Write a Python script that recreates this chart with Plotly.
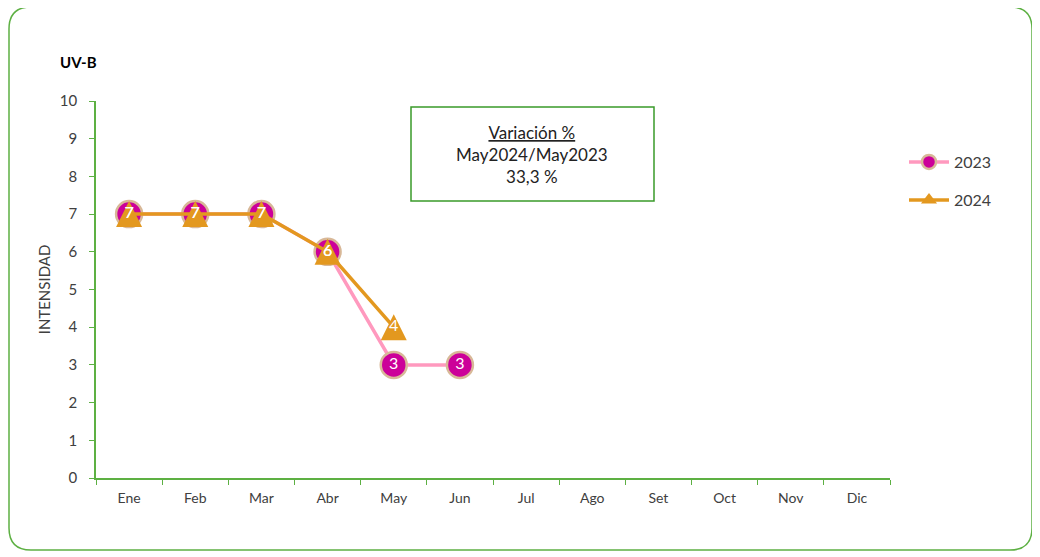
import plotly.graph_objects as go

months = ["Ene", "Feb", "Mar", "Abr", "May", "Jun", "Jul", "Ago", "Set", "Oct", "Nov", "Dic"]
uv_2023 = [7, 7, 7, 6, 3, 3, None, None, None, None, None, None]
uv_2024 = [7, 7, 7, 6, 4, None, None, None, None, None, None, None]
y_ticks = list(range(0, 11))

FONT = "Lato, Open Sans, sans-serif"
GREEN = "#5DB043"
PINK = "#FF99BE"
MAGENTA = "#CC0099"
TAN = "#D8B898"
ORANGE = "#E3981F"

def labels(vals):
    return ["" if v is None else str(v) for v in vals]

OFF = 8  # page body margin
W, H = 1040 - OFF, 557 - OFF
PL, PR, PT, PB = 96, 890, 101, 478   # plot area in page pixels
L, R, T, B = PL - OFF, W - (PR - OFF), PT - OFF, H - (PB - OFF)
pw, ph = W - L - R, H - T - B
YMAX = 10
TRI = 26                       # triangle marker size (px)
tri_shift = (TRI / 2) / ph * YMAX   # centre the arrow-up triangle on the value

fig = go.Figure()
# 2023 line + circles
fig.add_trace(go.Scatter(
    x=months, y=uv_2023, name="2023", mode="lines+markers", showlegend=False,
    line=dict(color=PINK, width=3.5),
    marker=dict(symbol="circle", size=26, color=MAGENTA, line=dict(color=TAN, width=2.5)),
))
# 2024 line
fig.add_trace(go.Scatter(
    x=months, y=uv_2024, name="2024", mode="lines", showlegend=False,
    line=dict(color=ORANGE, width=3.5),
))
# 2024 triangles (on an overlaid axis so the triangle is centred on the value)
fig.add_trace(go.Scatter(
    x=months, y=uv_2024, name="2024", mode="markers", showlegend=False, yaxis="y2",
    marker=dict(symbol="arrow-up", size=TRI, color=ORANGE, line=dict(width=0)),
))
# data labels on top
for vals in (uv_2023, uv_2024):
    fig.add_trace(go.Scatter(
        x=months, y=vals, mode="text", showlegend=False, yaxis="y3",
        text=labels(vals), textposition="middle center",
        textfont=dict(color="white", size=16, family=FONT), hoverinfo="skip",
    ))
# legend entries
fig.add_trace(go.Scatter(
    x=[None], y=[None], name="2023", mode="lines+markers", legend="legend",
    line=dict(color=PINK, width=3.5),
    marker=dict(symbol="circle", size=14, color=MAGENTA, line=dict(color=TAN, width=2.5)),
))
fig.add_trace(go.Scatter(
    x=[None], y=[None], name="2024", mode="lines+markers", legend="legend2",
    line=dict(color=ORANGE, width=3.5),
    marker=dict(symbol="triangle-up", size=14, color=ORANGE, line=dict(width=0)),
))

def px(x):
    return (x - PL) / pw

def py(y):
    return (PB - y) / ph

# rounded outer border (in paper coords)
x0, x1, y0, y1, r = 9, 1032, 7, 550, 22
path = (
    f"M {px(x0 + r)},{py(y0)} L {px(x1 - r)},{py(y0)} "
    f"Q {px(x1)},{py(y0)} {px(x1)},{py(y0 + r)} "
    f"L {px(x1)},{py(y1 - r)} Q {px(x1)},{py(y1)} {px(x1 - r)},{py(y1)} "
    f"L {px(x0 + r)},{py(y1)} Q {px(x0)},{py(y1)} {px(x0)},{py(y1 - r)} "
    f"L {px(x0)},{py(y0 + r)} Q {px(x0)},{py(y0)} {px(x0 + r)},{py(y0)} Z"
)

leg_common = dict(xanchor="left", yanchor="middle", font=dict(size=16, color="#404040"),
                  itemwidth=40, bgcolor="rgba(0,0,0,0)")

fig.update_layout(
    width=W, height=H,
    margin=dict(l=L, r=R, t=T, b=B),
    paper_bgcolor="white", plot_bgcolor="white",
    font=dict(family=FONT, size=14, color="#404040"),
    showlegend=True,
    legend=dict(x=px(904), y=py(162), **leg_common),
    legend2=dict(x=px(904), y=py(200), **leg_common),
    xaxis=dict(
        type="category", categoryorder="array", categoryarray=months,
        range=[-0.5, 11.5], showgrid=False, showline=True, linecolor=GREEN,
        linewidth=1.5, ticks="outside", tickson="boundaries", tickcolor=GREEN,
        ticklen=5, tickfont=dict(size=14, color="#404040"), zeroline=False,
        ticklabelstandoff=6,
    ),
    yaxis=dict(
        range=[0, YMAX], tickvals=y_ticks, showgrid=False, showline=True,
        linecolor=GREEN, linewidth=1.5, ticks="outside", tickcolor=GREEN,
        ticklen=5, tickfont=dict(size=15, color="#404040"), zeroline=False,
        ticklabelstandoff=9,
        title=dict(text="INTENSIDAD", font=dict(size=15, color="#404040"), standoff=6),
    ),
    yaxis2=dict(
        range=[0 - tri_shift, YMAX - tri_shift], overlaying="y", visible=False,
    ),
    yaxis3=dict(range=[0, YMAX], overlaying="y", visible=False),
    shapes=[
        dict(type="path", path=path, xref="paper", yref="paper",
             line=dict(color=GREEN, width=1.5), fillcolor="rgba(0,0,0,0)", layer="below"),
        dict(type="rect", xref="paper", yref="paper",
             x0=px(411), x1=px(654), y0=py(201), y1=py(107),
             line=dict(color="#3A9A2A", width=1.5), fillcolor="white"),
    ],
    annotations=[
        dict(text="<b>UV-B</b>", xref="paper", yref="paper", x=px(58), y=py(62),
             xanchor="left", yanchor="middle", showarrow=False,
             font=dict(size=15, color="black")),
        dict(text="<u>Variación %</u><br>May2024/May2023<br>33,3 %",
             xref="paper", yref="paper", x=px(532), y=py(154),
             xanchor="center", yanchor="middle", showarrow=False, align="center",
             font=dict(size=17, color="#222222")),
    ],
)

fig.write_html("out.html")
